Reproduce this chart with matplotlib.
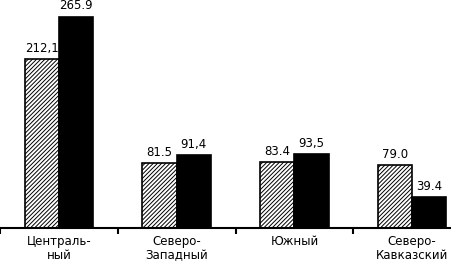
import numpy as np
import matplotlib.pyplot as plt

# данные по федеральным округам
regions = ['Централь-\nный', 'Северо-\nЗападный', 'Южный', 'Северо-\nКавказский']
values_a = [212.1, 81.5, 83.4, 79.0]
values_b = [265.9, 91.4, 93.5, 39.4]
labels_a = ['212,1', '81.5', '83.4', '79.0']
labels_b = ['265.9', '91,4', '93,5', '39.4']

plt.rcParams['font.family'] = 'DejaVu Sans'
plt.rcParams['hatch.linewidth'] = 0.7

fig = plt.figure(figsize=(4.51, 2.61), dpi=100)
ax = fig.add_axes([0, 33 / 261, 1, 228 / 261])

x = np.arange(len(regions))
w = 0.29
bars_a = ax.bar(x - w / 2, values_a, w, color='white', edgecolor='black',
                hatch='////////', linewidth=1.2)
bars_b = ax.bar(x + w / 2, values_b, w, color='black', edgecolor='black',
                linewidth=1.2)

for bars, labs in ((bars_a, labels_a), (bars_b, labels_b)):
    for b, lab in zip(bars, labs):
        ax.annotate(lab, (b.get_x() + b.get_width() / 2, b.get_height()),
                    xytext=(0, 3), textcoords='offset points',
                    ha='center', va='bottom', fontsize=8.5)

ax.set_xlim(-0.5, 3.33)
ax.set_ylim(0, 286.8)

for s in ('top', 'right', 'left'):
    ax.spines[s].set_visible(False)
ax.spines['bottom'].set_linewidth(1.5)
ax.set_yticks([])

ax.set_xticks(x)
ax.set_xticklabels(regions, fontsize=8.5, linespacing=1.15)
ax.tick_params(axis='x', which='major', length=0, pad=5)
ax.set_xticks([-0.5, 0.5, 1.5, 2.5], minor=True)
ax.tick_params(axis='x', which='minor', length=4, width=1.5, direction='out')

fig.savefig('out.png', dpi=100)
